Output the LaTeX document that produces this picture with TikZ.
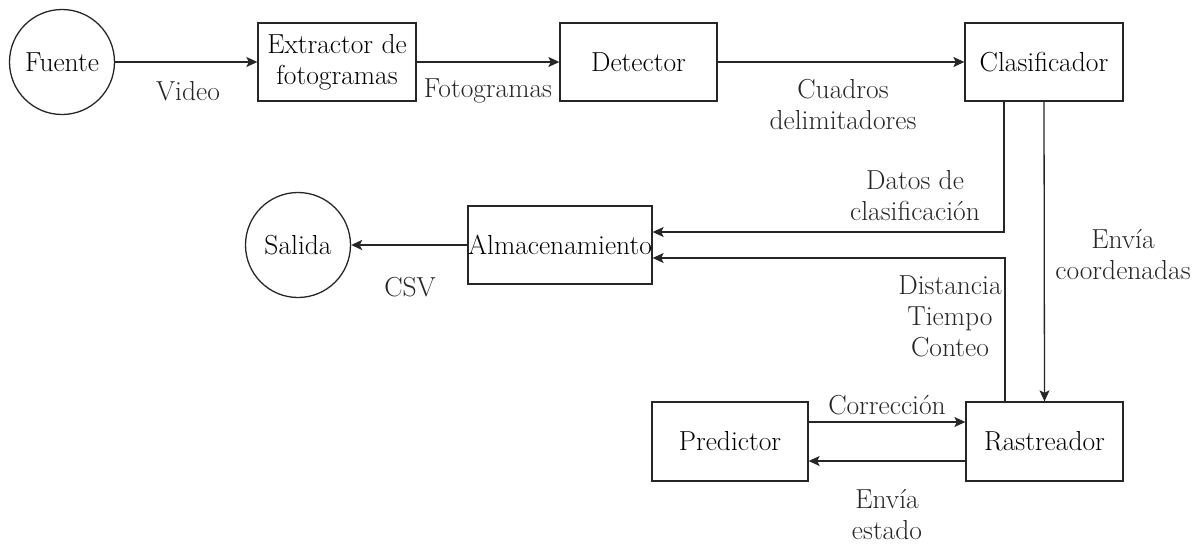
\documentclass[tikz,border=0pt]{standalone}
\usepackage{fontspec}
\usetikzlibrary{arrows.meta}
\begin{document}
\begin{tikzpicture}[x=1pt,y=-1pt,
  font=\rmfamily\fontsize{27.5}{31}\selectfont,
  line width=1.3pt,
  stagebox/.style={draw=black!85, rectangle, inner sep=0pt, align=center, minimum height=78pt},
  endpoint/.style={draw=black!85, circle, inner sep=0pt, minimum size=105pt},
  flow/.style={draw=black!85, -{Stealth[length=11pt,width=10pt,inset=2.5pt]}},
  heavyflow/.style={flow, line width=2.4pt},
  tag/.style={align=center, inner sep=0pt, text=black!85}]
\useasboundingbox (0,0) rectangle (1197,544);

% stages
\node[endpoint] (fuente) at (62,62) {Fuente};
\node[stagebox, minimum width=158pt] (extr) at (337,62) {Extractor de\\fotogramas};
\node[stagebox, minimum width=157pt] (det) at (638.5,62) {Detector};
\node[stagebox, minimum width=158pt] (clas) at (1044,62) {Clasificador};
\node[stagebox, minimum width=184pt] (alm) at (560,245) {Almacenamiento};
\node[endpoint] (salida) at (298,245) {Salida};
\node[stagebox, minimum width=156pt, minimum height=79pt] (pred) at (730,441.5) {Predictor};
\node[stagebox, minimum width=157pt, minimum height=79pt] (ras) at (1044.5,441.5) {Rastreador};

% connectors
\draw[flow] (fuente) -- (extr);
\draw[flow] (extr) -- (det);
\draw[flow] (det) -- (clas);
\draw[flow] ([xshift=-40pt]clas.south) |- ([yshift=13pt]alm.east);
\draw[flow] (clas.south) -- (ras.north);
\draw[flow] ([xshift=-39.5pt]ras.north) |- ([yshift=-13pt]alm.east);
\draw[heavyflow] (alm) -- (salida);
\draw[flow] ([yshift=19.5pt]pred.east) -- ([yshift=19.5pt]ras.west);
\draw[flow] ([yshift=-19.5pt]ras.west) -- ([yshift=-19.5pt]pred.east);

% connector labels
\node[tag] (lvideo) at (188,91) {Video};
\node[tag] (lfoto) at (488,91) {Fotogramas};
\node[tag] (lcuad) at (843,104) {Cuadros\\delimitadores};
\node[tag] (ldatos) at (915,196) {Datos de\\clasificación};
\node[tag] (lcoord) at (1123,255) {Envía\\coordenadas};
\node[tag] (lmet) at (950,316) {Distancia\\Tiempo\\Conteo};
\node[tag] (lcsv) at (410,287) {CSV};
\node[tag] (lcorr) at (887,405) {Corrección};
\node[tag] (lestado) at (887,515) {Envía\\estado};
\end{tikzpicture}
\end{document}
